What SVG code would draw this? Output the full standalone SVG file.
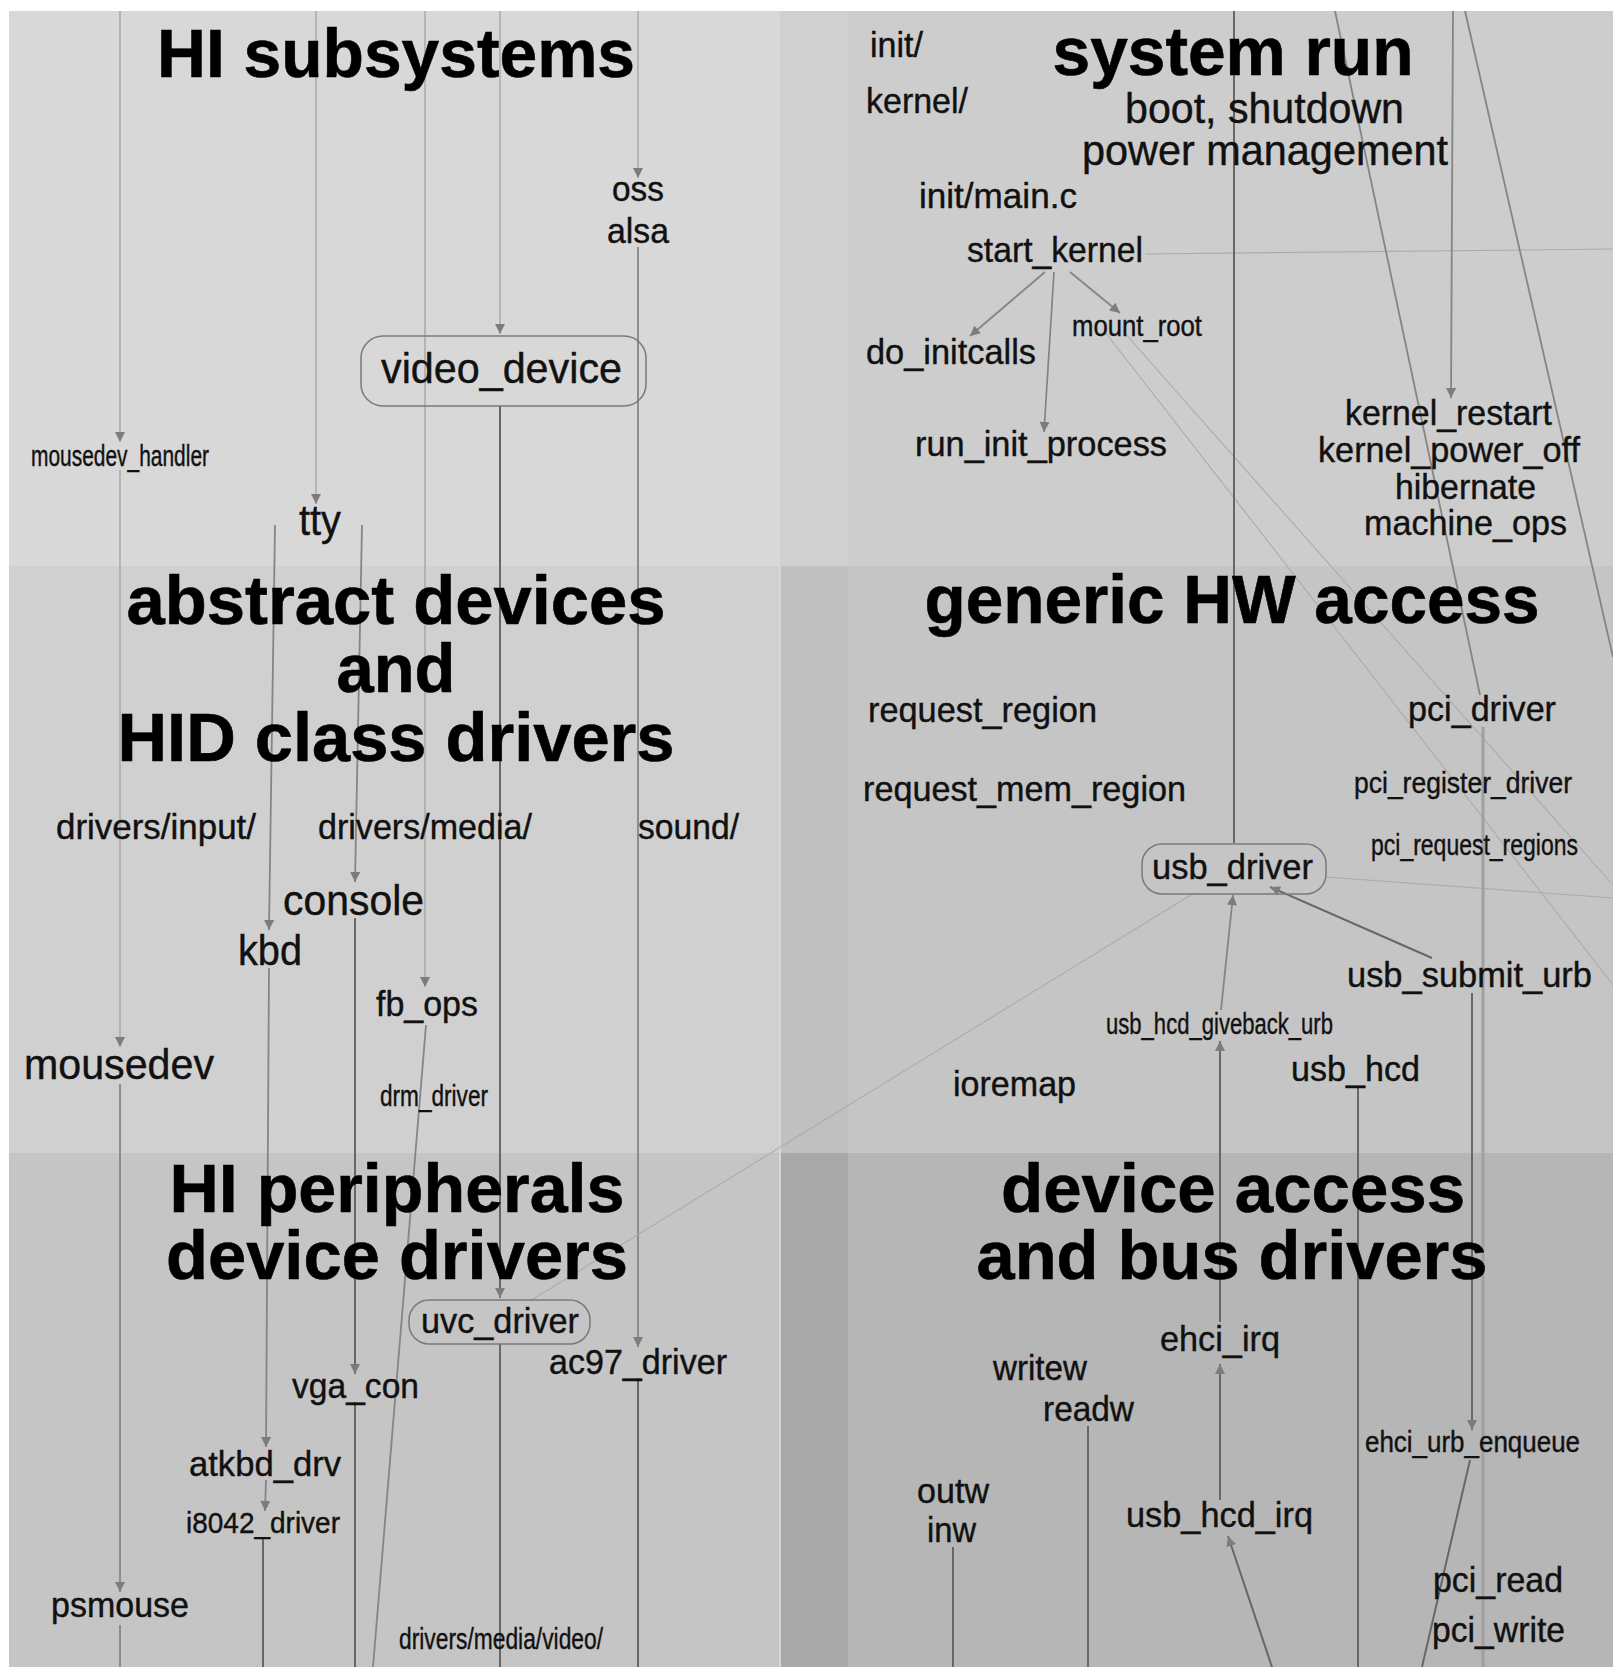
<svg xmlns="http://www.w3.org/2000/svg" width="1613" height="1667" viewBox="0 0 1613 1667">
<style>
text{font-family:"Liberation Sans",Arial,sans-serif;fill:#111;stroke:#111;stroke-width:0.4}
.t{font-weight:bold;font-size:68px;fill:#000;stroke:#000;stroke-width:0.6;text-anchor:middle}
.n{font-size:35px}
.b{font-size:42px}
.c{font-size:30px}
.box{fill:none;stroke:#7a7a7a;stroke-width:1.5}
.el{fill:none;stroke:#a2a2a2;stroke-width:1.3}
.em{fill:none;stroke:#858585;stroke-width:1.8}
.ed{fill:none;stroke:#676767;stroke-width:2}
.et{fill:none;stroke:#ababab;stroke-width:1.1}
.ew{fill:none;stroke:#a0a0a0;stroke-width:3}
</style>
<defs>
<marker id="ah" viewBox="0 0 10 10" refX="10" refY="5" markerWidth="14" markerHeight="10" markerUnits="userSpaceOnUse" orient="auto"><path d="M0,0 L10,5 L0,10 z" fill="#7c7c7c"/></marker>
</defs>
<g id="background">
<rect x="0" y="0" width="1613" height="1667" fill="#ffffff"/>
<rect x="9" y="11" width="771" height="555" fill="#d8d8d8"/>
<rect x="780" y="11" width="68" height="555" fill="#d0d0d0"/>
<rect x="848" y="11" width="765" height="555" fill="#cdcdcd"/>
<rect x="9" y="566" width="771" height="587" fill="#d0d0d0"/>
<rect x="780" y="566" width="68" height="587" fill="#c0c0c0"/>
<rect x="848" y="566" width="765" height="587" fill="#c5c5c5"/>
<rect x="9" y="1153" width="771" height="514" fill="#c5c5c5"/>
<rect x="780" y="1153" width="68" height="514" fill="#a9a9a9"/>
<rect x="848" y="1153" width="765" height="514" fill="#b6b6b6"/>
<line x1="780" y1="566" x2="780" y2="1667" stroke="#d6d6d6" stroke-width="2"/>
</g>
<g id="connectors">
<path class="el" d="M120,11 V442" marker-end="url(#ah)"/>
<path class="el" d="M120,470 V1047" marker-end="url(#ah)"/>
<path class="em" d="M120,1084 V1592" marker-end="url(#ah)"/>
<path class="em" d="M120,1625 V1667"/>
<path class="el" d="M316,11 V504" marker-end="url(#ah)"/>
<path class="em" d="M275,525 L269,930" marker-end="url(#ah)"/>
<path class="em" d="M362,525 L355,882" marker-end="url(#ah)"/>
<path class="el" d="M425,11 V987" marker-end="url(#ah)"/>
<path class="em" d="M426,1025 L373,1667"/>
<path class="el" d="M500,11 V334" marker-end="url(#ah)"/>
<path class="ed" d="M500,406 V1298" marker-end="url(#ah)"/>
<path class="ed" d="M500,1344 V1667"/>
<path class="el" d="M638,11 V178" marker-end="url(#ah)"/>
<path class="em" d="M638,247 V1347" marker-end="url(#ah)"/>
<path class="ed" d="M638,1378 V1667"/>
<path class="ed" d="M355,918 V1374" marker-end="url(#ah)"/>
<path class="ed" d="M355,1402 V1667"/>
<path class="em" d="M269,968 L266,1447" marker-end="url(#ah)"/>
<path class="em" d="M266,1480 L265,1511" marker-end="url(#ah)"/>
<path class="ed" d="M263,1537 V1667"/>
<path class="et" d="M530,1301 L1194,893"/>
<path class="em" d="M1045,272 L970,336" marker-end="url(#ah)"/>
<path class="em" d="M1054,272 L1044,432" marker-end="url(#ah)"/>
<path class="em" d="M1070,272 L1120,313" marker-end="url(#ah)"/>
<path class="et" d="M1145,254 L1613,249"/>
<path class="et" d="M1105,332 L1613,985"/>
<path class="et" d="M1122,330 L1613,885"/>
<path class="ed" d="M1234,11 V843"/>
<path class="em" d="M1335,11 L1480,695"/>
<path class="em" d="M1465,11 L1613,657"/>
<path class="em" d="M1453,11 L1451,398" marker-end="url(#ah)"/>
<path class="ed" d="M1432,958 L1270,887" marker-end="url(#ah)"/>
<path class="em" d="M1221,1010 L1233,895" marker-end="url(#ah)"/>
<path class="et" d="M1326,877 L1613,898"/>
<path class="ew" d="M1483,727 V1667"/>
<path class="ed" d="M1472,993 V1430" marker-end="url(#ah)"/>
<path class="ed" d="M1358,1087 V1667"/>
<path class="ed" d="M1220,1322 V1041" marker-end="url(#ah)"/>
<path class="ed" d="M1220,1500 V1364" marker-end="url(#ah)"/>
<path class="ed" d="M1272,1667 L1228,1536" marker-end="url(#ah)"/>
<path class="ed" d="M1470,1460 L1422,1667"/>
<path class="ed" d="M1088,1426 V1667"/>
<path class="ed" d="M953,1547 V1667"/>
</g>
<g id="titles">
<text class="t" x="396" y="77" textLength="478" lengthAdjust="spacingAndGlyphs">HI subsystems</text>
<text class="t" x="1233" y="75" textLength="361" lengthAdjust="spacingAndGlyphs">system run</text>
<text class="t" x="396" y="624" textLength="539" lengthAdjust="spacingAndGlyphs">abstract devices</text>
<text class="t" x="396" y="692" textLength="119" lengthAdjust="spacingAndGlyphs">and</text>
<text class="t" x="396" y="761" textLength="557" lengthAdjust="spacingAndGlyphs">HID class drivers</text>
<text class="t" x="1232" y="623" textLength="615" lengthAdjust="spacingAndGlyphs">generic HW access</text>
<text class="t" x="397" y="1212" textLength="455" lengthAdjust="spacingAndGlyphs">HI peripherals</text>
<text class="t" x="397" y="1279" textLength="462" lengthAdjust="spacingAndGlyphs">device drivers</text>
<text class="t" x="1233" y="1212" textLength="464" lengthAdjust="spacingAndGlyphs">device access</text>
<text class="t" x="1232" y="1279" textLength="511" lengthAdjust="spacingAndGlyphs">and bus drivers</text>
</g>
<g id="n-oss"><text class="n" x="612" y="201" textLength="52" lengthAdjust="spacingAndGlyphs">oss</text></g>
<g id="n-alsa"><text class="n" x="607" y="243" textLength="62" lengthAdjust="spacingAndGlyphs">alsa</text></g>
<g id="n-video_device"><rect class="box" x="361" y="336" width="285" height="70" rx="22"/><text class="b" x="381" y="383" textLength="241" lengthAdjust="spacingAndGlyphs">video_device</text></g>
<g id="n-mousedev_handler"><text class="c" x="31" y="466" textLength="178" lengthAdjust="spacingAndGlyphs">mousedev_handler</text></g>
<g id="n-tty"><text class="b" x="299" y="535" textLength="42" lengthAdjust="spacingAndGlyphs">tty</text></g>
<g id="n-init"><text class="n" x="870" y="57" textLength="53" lengthAdjust="spacingAndGlyphs">init/</text></g>
<g id="n-kernel"><text class="n" x="866" y="113" textLength="102" lengthAdjust="spacingAndGlyphs">kernel/</text></g>
<g id="n-boot"><text class="b" x="1125" y="123" textLength="279" lengthAdjust="spacingAndGlyphs">boot, shutdown</text><text class="b" x="1082" y="165" textLength="366" lengthAdjust="spacingAndGlyphs">power management</text></g>
<g id="n-init_main"><text class="n" x="919" y="208" textLength="158" lengthAdjust="spacingAndGlyphs">init/main.c</text></g>
<g id="n-start_kernel"><text class="n" x="967" y="262" textLength="176" lengthAdjust="spacingAndGlyphs">start_kernel</text></g>
<g id="n-do_initcalls"><text class="n" x="866" y="364" textLength="170" lengthAdjust="spacingAndGlyphs">do_initcalls</text></g>
<g id="n-mount_root"><text class="c" x="1072" y="336" textLength="130" lengthAdjust="spacingAndGlyphs">mount_root</text></g>
<g id="n-run_init_process"><text class="n" x="915" y="456" textLength="252" lengthAdjust="spacingAndGlyphs">run_init_process</text></g>
<g id="n-kernel_restart"><text class="n" x="1345" y="425" textLength="207" lengthAdjust="spacingAndGlyphs">kernel_restart</text><text class="n" x="1318" y="462" textLength="262" lengthAdjust="spacingAndGlyphs">kernel_power_off</text><text class="n" x="1395" y="499" textLength="141" lengthAdjust="spacingAndGlyphs">hibernate</text><text class="n" x="1364" y="535" textLength="203" lengthAdjust="spacingAndGlyphs">machine_ops</text></g>
<g id="n-drivers_input"><text class="n" x="56" y="839" textLength="200" lengthAdjust="spacingAndGlyphs">drivers/input/</text></g>
<g id="n-drivers_media"><text class="n" x="318" y="839" textLength="214" lengthAdjust="spacingAndGlyphs">drivers/media/</text></g>
<g id="n-sound"><text class="n" x="638" y="839" textLength="101" lengthAdjust="spacingAndGlyphs">sound/</text></g>
<g id="n-console"><text class="b" x="283" y="915" textLength="141" lengthAdjust="spacingAndGlyphs">console</text></g>
<g id="n-kbd"><text class="b" x="238" y="965" textLength="64" lengthAdjust="spacingAndGlyphs">kbd</text></g>
<g id="n-fb_ops"><text class="n" x="376" y="1016" textLength="102" lengthAdjust="spacingAndGlyphs">fb_ops</text></g>
<g id="n-mousedev"><text class="b" x="24" y="1079" textLength="190" lengthAdjust="spacingAndGlyphs">mousedev</text></g>
<g id="n-drm_driver"><text class="c" x="380" y="1106" textLength="108" lengthAdjust="spacingAndGlyphs">drm_driver</text></g>
<g id="n-request_region"><text class="n" x="868" y="722" textLength="229" lengthAdjust="spacingAndGlyphs">request_region</text></g>
<g id="n-request_mem_region"><text class="n" x="863" y="801" textLength="323" lengthAdjust="spacingAndGlyphs">request_mem_region</text></g>
<g id="n-pci_driver"><text class="n" x="1408" y="721" textLength="148" lengthAdjust="spacingAndGlyphs">pci_driver</text></g>
<g id="n-pci_register_driver"><text class="c" x="1354" y="793" textLength="218" lengthAdjust="spacingAndGlyphs">pci_register_driver</text></g>
<g id="n-pci_request_regions"><text class="c" x="1371" y="855" textLength="207" lengthAdjust="spacingAndGlyphs">pci_request_regions</text></g>
<g id="n-usb_driver"><rect class="box" x="1142" y="844" width="184" height="50" rx="20"/><text class="n" x="1152" y="879" textLength="161" lengthAdjust="spacingAndGlyphs">usb_driver</text></g>
<g id="n-usb_submit_urb"><text class="n" x="1347" y="987" textLength="245" lengthAdjust="spacingAndGlyphs">usb_submit_urb</text></g>
<g id="n-usb_hcd_giveback_urb"><text class="c" x="1106" y="1034" textLength="227" lengthAdjust="spacingAndGlyphs">usb_hcd_giveback_urb</text></g>
<g id="n-usb_hcd"><text class="n" x="1291" y="1081" textLength="129" lengthAdjust="spacingAndGlyphs">usb_hcd</text></g>
<g id="n-ioremap"><text class="n" x="953" y="1096" textLength="123" lengthAdjust="spacingAndGlyphs">ioremap</text></g>
<g id="n-uvc_driver"><rect class="box" x="409" y="1300" width="181" height="44" rx="20"/><text class="n" x="421" y="1333" textLength="158" lengthAdjust="spacingAndGlyphs">uvc_driver</text></g>
<g id="n-ac97_driver"><text class="n" x="549" y="1374" textLength="178" lengthAdjust="spacingAndGlyphs">ac97_driver</text></g>
<g id="n-vga_con"><text class="n" x="292" y="1398" textLength="127" lengthAdjust="spacingAndGlyphs">vga_con</text></g>
<g id="n-atkbd_drv"><text class="n" x="189" y="1476" textLength="152" lengthAdjust="spacingAndGlyphs">atkbd_drv</text></g>
<g id="n-i8042_driver"><text class="c" x="186" y="1533" textLength="154" lengthAdjust="spacingAndGlyphs">i8042_driver</text></g>
<g id="n-psmouse"><text class="n" x="51" y="1617" textLength="138" lengthAdjust="spacingAndGlyphs">psmouse</text></g>
<g id="n-drivers_media_video"><text class="c" x="399" y="1649" textLength="204" lengthAdjust="spacingAndGlyphs">drivers/media/video/</text></g>
<g id="n-ehci_irq"><text class="n" x="1160" y="1351" textLength="120" lengthAdjust="spacingAndGlyphs">ehci_irq</text></g>
<g id="n-writew"><text class="n" x="993" y="1380" textLength="94" lengthAdjust="spacingAndGlyphs">writew</text></g>
<g id="n-readw"><text class="n" x="1043" y="1421" textLength="91" lengthAdjust="spacingAndGlyphs">readw</text></g>
<g id="n-ehci_urb_enqueue"><text class="c" x="1365" y="1452" textLength="215" lengthAdjust="spacingAndGlyphs">ehci_urb_enqueue</text></g>
<g id="n-outw"><text class="n" x="917" y="1503" textLength="72" lengthAdjust="spacingAndGlyphs">outw</text></g>
<g id="n-inw"><text class="n" x="927" y="1542" textLength="49" lengthAdjust="spacingAndGlyphs">inw</text></g>
<g id="n-usb_hcd_irq"><text class="n" x="1126" y="1527" textLength="187" lengthAdjust="spacingAndGlyphs">usb_hcd_irq</text></g>
<g id="n-pci_read"><text class="n" x="1433" y="1592" textLength="130" lengthAdjust="spacingAndGlyphs">pci_read</text></g>
<g id="n-pci_write"><text class="n" x="1432" y="1642" textLength="133" lengthAdjust="spacingAndGlyphs">pci_write</text></g>
</svg>
